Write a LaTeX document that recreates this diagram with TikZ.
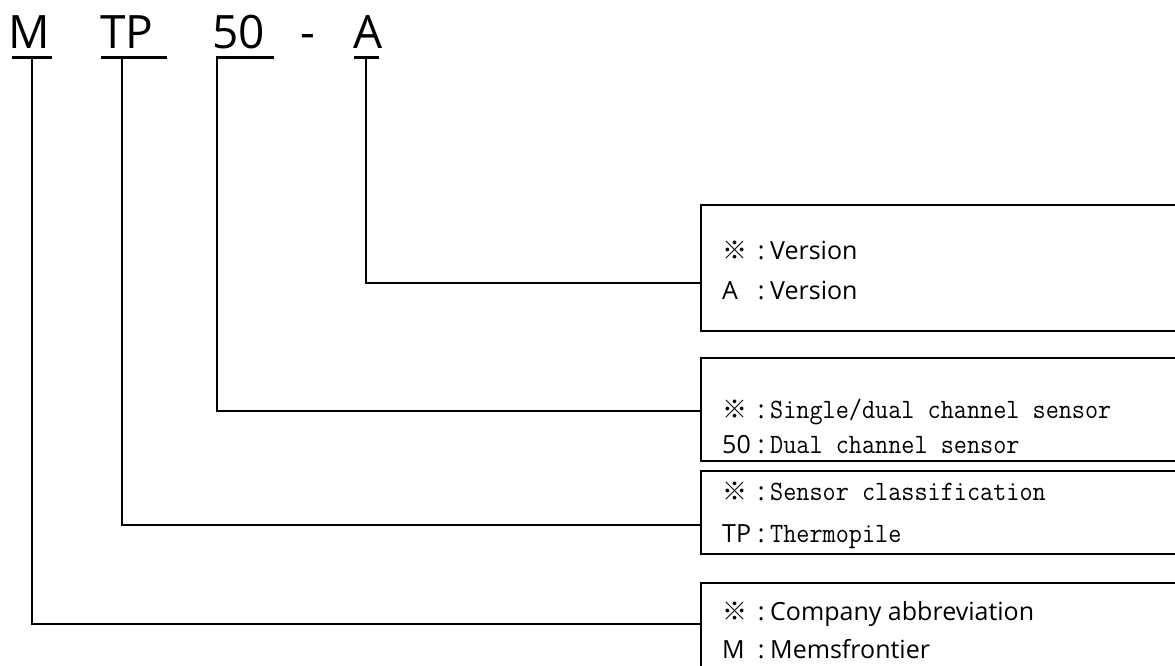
\documentclass[tikz,border=0pt]{standalone}
\usepackage{fontspec}
\setmainfont{Open Sans}
\newfontfamily\cjkfont{Noto Sans CJK SC}
\newfontfamily\simfont[FakeStretch=0.91]{Latin Modern Mono}
\newcommand\kome{{\cjkfont ※}}
\newcommand\monotext{\simfont\fontsize{28}{30}\selectfont}
\newcommand\entry[2]{\makebox[30pt][l]{#1}\makebox[18pt][c]{:}#2}

\tikzset{
  code/.style={font=\fontsize{46}{50}\selectfont, inner sep=0pt, anchor=base west},
  uline/.style={line width=3pt},
  link/.style={line width=1.5pt},
  box/.style={draw, line width=2pt, anchor=north west, minimum width=520pt},
  txt/.style={font=\fontsize{25}{28}\selectfont, inner sep=0pt, anchor=base west},
}

\begin{document}
\begin{tikzpicture}[x=1pt,y=1pt]
    \useasboundingbox (0,0) rectangle (1175,665);
    % part number
    \node[code] (cM) at (8,616) {M};
    \node[code] (cTP) at (100,616) {TP};
    \node[code] (c50) at (212,616) {50};
    \node[code] (cdash) at (300,616) {-};
    \node[code] (cA) at (353,616) {A};
    \draw[uline] (12,607.5) -- (52,607.5);
    \draw[uline] (101,607.5) -- (167,607.5);
    \draw[uline] (216,607.5) -- (274,607.5);
    \draw[uline] (354,607.5) -- (379,607.5);
    \coordinate (uM) at (32,607.5);
    \coordinate (uTP) at (122,607.5);
    \coordinate (u50) at (217,607.5);
    \coordinate (uA) at (366,607.5);
    % boxes
    \node[box, minimum height=126pt] (bA) at (700,461) {};
    \node[box, minimum height=103pt] (b50) at (700,308) {};
    \node[box, minimum height=83pt] (bTP) at (700,195) {};
    \node[box, minimum height=110pt] (bM) at (700,83) {};
    \coordinate (jA) at (bA.west |- 0,382);
    \coordinate (j50) at (b50.west |- 0,254);
    \coordinate (jTP) at (bTP.west |- 0,140);
    \coordinate (jM) at (bM.west |- 0,41);
    \draw[link] (uA) |- (jA);
    \draw[link] (u50) |- (j50);
    \draw[link] (uTP) |- (jTP);
    \draw[link] (uM) |- (jM);
    % meanings
    \node[txt] (tA1) at (722,405) {\entry{\kome}{Version}};
    \node[txt] (tA2) at (722,365) {\entry{A}{Version}};
    \node[txt] (t501) at (722,247) {\entry{\kome}{\monotext Single/dual channel sensor}};
    \node[txt] (t502) at (722,212) {\entry{50}{\monotext Dual channel sensor}};
    \node[txt] (tTP1) at (722,165) {\entry{\kome}{\monotext Sensor classification}};
    \node[txt] (tTP2) at (722,123) {\entry{TP}{\monotext Thermopile}};
    \node[txt] (tM1) at (722,45) {\entry{\kome}{Company abbreviation}};
    \node[txt] (tM2) at (722,7) {\entry{M}{Memsfrontier}};
\end{tikzpicture}
\end{document}
